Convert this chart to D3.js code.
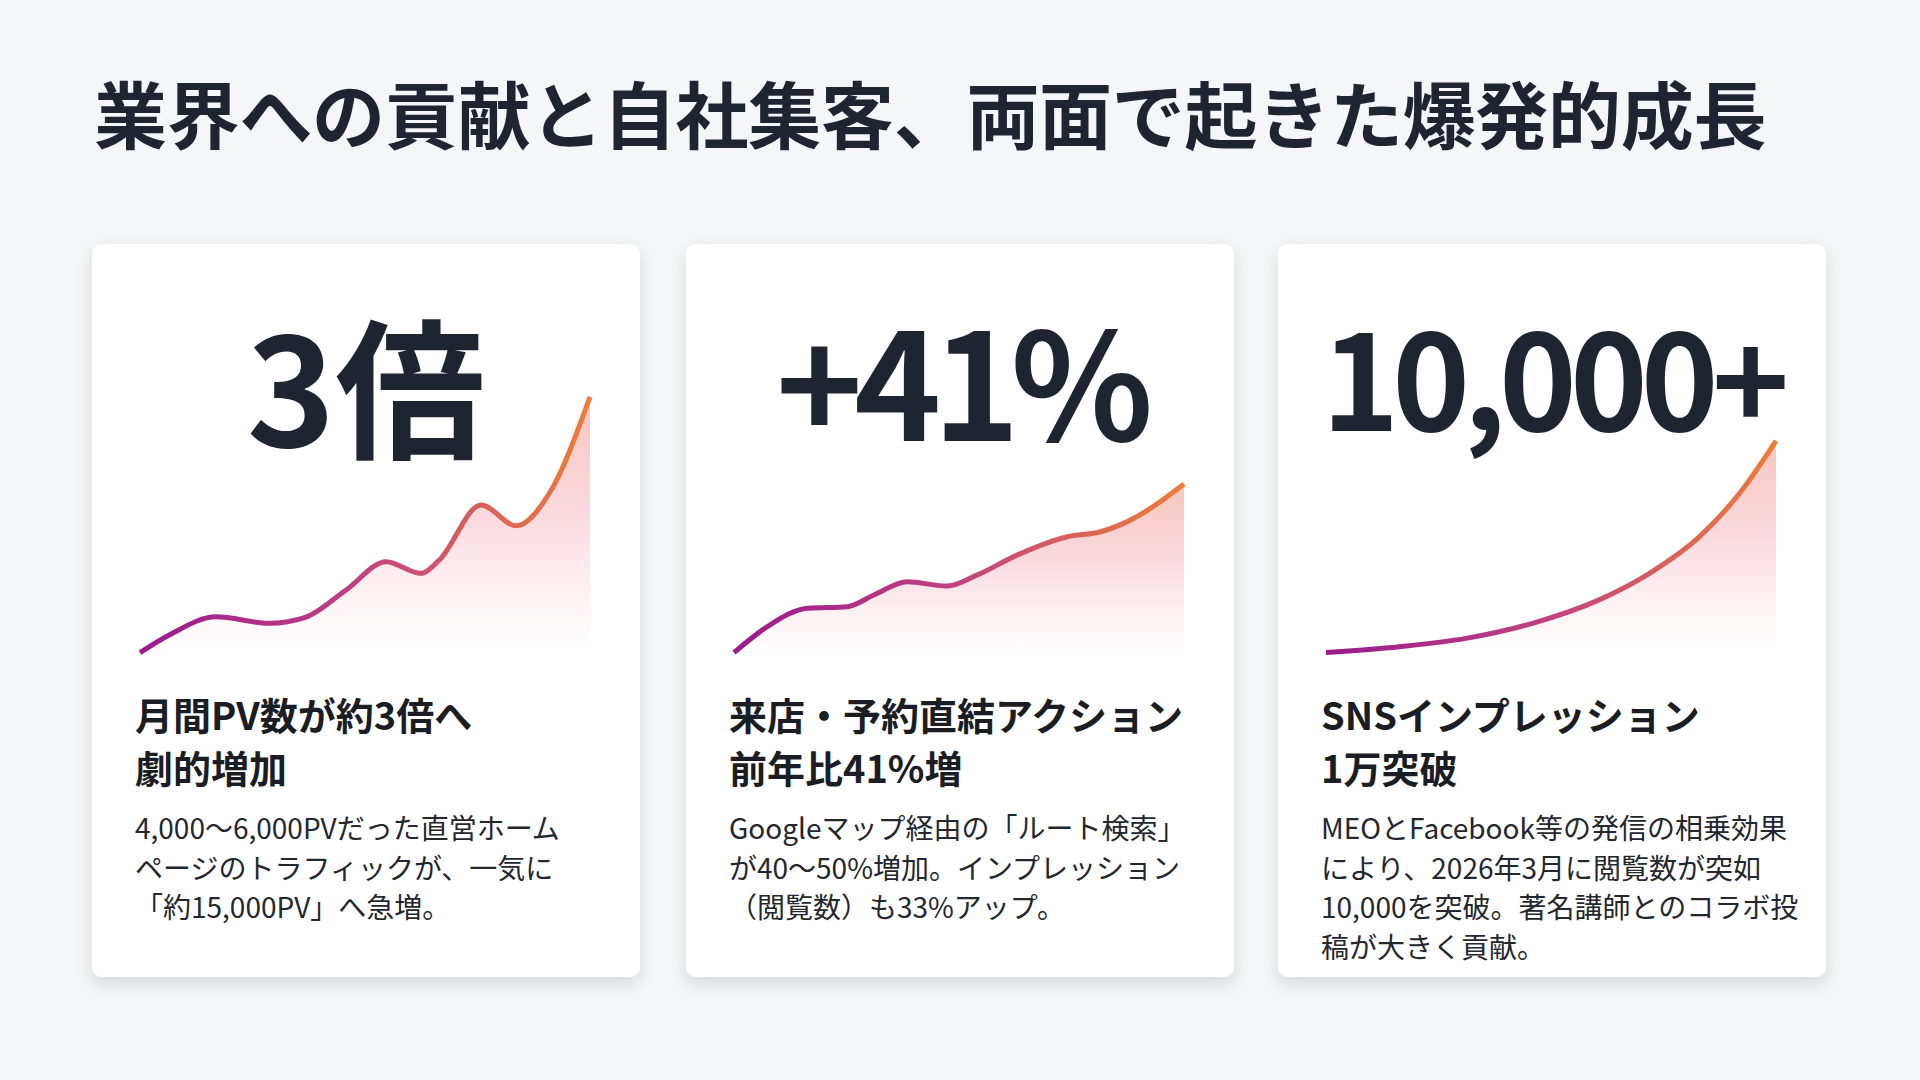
<!DOCTYPE html>
<html lang="ja">
<head>
<meta charset="utf-8">
<title>業界への貢献と自社集客、両面で起きた爆発的成長</title>
<script src="https://cdn.jsdelivr.net/npm/d3@7"></script>
<style>
  html, body { margin: 0; padding: 0; background: #f5f6f8; }
  svg { display: block; font-family: "Noto Sans CJK JP", "Noto Sans", sans-serif; }
</style>
</head>
<body>
<svg id="chart" width="1920" height="1080"></svg>
<script>
// ---- data ----
const pageTitle = "業界への貢献と自社集客、両面で起きた爆発的成長"

const statLabels = ["3倍", "+41%", "10,000+"]

const headingLines = [
    ["月間PV数が約3倍へ", "劇的増加"],
    ["来店・予約直結アクション", "前年比41%増"],
    ["SNSインプレッション", "1万突破"]
]

const bodyLines = [
    ["4,000〜6,000PVだった直営ホーム", "ページのトラフィックが、一気に", "「約15,000PV」へ急増。"],
    ["Googleマップ経由の「ルート検索」", "が40〜50%増加。インプレッション", "（閲覧数）も33%アップ。"],
    ["MEOとFacebook等の発信の相乗効果", "により、2026年3月に閲覧数が突如", "10,000を突破。著名講師とのコラボ投", "稿が大きく貢献。"]
]

// trend lines, x = time (0-100), y = relative level (0-100)
const pvTime = [0, 6.5, 16.9, 28.7, 36.9, 45.8, 54.7, 62.4, 66.5, 75.8, 83.6, 91, 100]
const pvLevel = [0.9, 7.7, 14.7, 12.2, 14.6, 25, 35.9, 31.4, 36.5, 57.7, 49.7, 62.3, 99.3]

const actionTime = [0, 7.4, 16.3, 25.2, 31.1, 38.5, 47.4, 54.1, 63, 74.1, 81.5, 87.4, 100]
const actionLevel = [0.9, 10.9, 18, 18.6, 23.1, 28.2, 26.5, 30.8, 38.5, 45.5, 47.4, 51.3, 65.8]

const snsTime = [0, 16.3, 31.1, 45.9, 60.7, 71.9, 83, 91.9, 100]
const snsLevel = [1, 3.2, 6.4, 12.2, 21.2, 31.4, 45.5, 62.2, 82.4]

const trends = [
    d3.zip(pvTime, pvLevel),
    d3.zip(actionTime, actionLevel),
    d3.zip(snsTime, snsLevel)
]

// ---- layout ----
const cardLeft = [92, 686, 1278]
const cardTop = 244
const cardW = 548
const cardH = 733
const statSize = [150, 148, 132]
const statBase = [447, 441, 431]
const statSpacing = [0, -9, -7]

const svg = d3.select("#chart")
const defs = svg.append("defs")

const shadow = defs.append("filter")
    .attr("id", "card-shadow")
    .attr("x", "-10%").attr("y", "-10%")
    .attr("width", "120%").attr("height", "125%")
shadow.append("feDropShadow")
    .attr("dx", 0).attr("dy", 7)
    .attr("stdDeviation", 9)
    .attr("flood-color", "#1e2430")
    .attr("flood-opacity", 0.12)

svg.append("text")
    .attr("x", 94)
    .attr("y", 111)
    .attr("dominant-baseline", "central")
    .attr("font-size", 73)
    .attr("font-weight", 700)
    .attr("letter-spacing", -0.3)
    .attr("fill", "#1e2430")
    .text(pageTitle)

const y = d3.scaleLinear().domain([0, 100]).range([655, 395])

const cards = svg.selectAll("g.card")
    .data(statLabels.map((s, i) => ({i: i, stat: s, heading: headingLines[i], body: bodyLines[i], trend: trends[i]})))
    .enter()
    .append("g")
    .attr("class", "card")
    .each(function (card) {
        let g = d3.select(this)
        let left = cardLeft[card.i]
        let x = d3.scaleLinear().domain([0, 100]).range([left + 48, left + 498])

        g.append("rect")
            .attr("x", left)
            .attr("y", cardTop)
            .attr("width", cardW)
            .attr("height", cardH)
            .attr("rx", 10)
            .attr("fill", "#ffffff")
            .attr("filter", "url(#card-shadow)")

        // gradients for this card's line and area
        let lineGrad = defs.append("linearGradient")
            .attr("id", "line-grad-" + card.i)
            .attr("gradientUnits", "userSpaceOnUse")
            .attr("x1", x(0)).attr("x2", x(100))
            .attr("y1", 0).attr("y2", 0)
        lineGrad.append("stop").attr("offset", "0%").attr("stop-color", "#9a1a8e")
        lineGrad.append("stop").attr("offset", "50%").attr("stop-color", "#c2437f")
        lineGrad.append("stop").attr("offset", "100%").attr("stop-color", "#f07c38")

        let topLevel = d3.max(card.trend, d => d[1])
        let areaGrad = defs.append("linearGradient")
            .attr("id", "area-grad-" + card.i)
            .attr("gradientUnits", "userSpaceOnUse")
            .attr("x1", 0).attr("x2", 0)
            .attr("y1", y(topLevel)).attr("y2", y(0))
        areaGrad.append("stop").attr("offset", "0%").attr("stop-color", "#f5a08e").attr("stop-opacity", 0.6)
        areaGrad.append("stop").attr("offset", "45%").attr("stop-color", "#f4aab6").attr("stop-opacity", 0.45)
        areaGrad.append("stop").attr("offset", "100%").attr("stop-color", "#f8c6d2").attr("stop-opacity", 0)

        let area = d3.area()
            .x(d => x(d[0]))
            .y0(y(0))
            .y1(d => y(d[1]))
            .curve(d3.curveMonotoneX)

        let line = d3.line()
            .x(d => x(d[0]))
            .y(d => y(d[1]))
            .curve(d3.curveMonotoneX)

        g.append("path")
            .datum(card.trend)
            .attr("d", area)
            .attr("fill", "url(#area-grad-" + card.i + ")")

        g.append("path")
            .datum(card.trend)
            .attr("d", line)
            .attr("fill", "none")
            .attr("stroke", "url(#line-grad-" + card.i + ")")
            .attr("stroke-width", 5)
            .attr("stroke-linejoin", "round")

        // big number
        g.append("text")
            .attr("x", left + cardW / 2)
            .attr("y", statBase[card.i])
            .attr("text-anchor", "middle")
            .attr("font-size", statSize[card.i])
            .attr("font-weight", 700)
            .attr("letter-spacing", statSpacing[card.i])
            .attr("fill", "#1e2430")
            .text(card.stat)

        g.selectAll("text.heading")
            .data(card.heading)
            .enter()
            .append("text")
            .attr("class", "heading")
            .attr("x", left + 43)
            .attr("y", (d, j) => 713 + j * 53)
            .attr("dominant-baseline", "central")
            .attr("font-size", 38)
            .attr("font-weight", 700)
            .attr("fill", "#1a1d23")
            .text(d => d)

        g.selectAll("text.body")
            .data(card.body)
            .enter()
            .append("text")
            .attr("class", "body")
            .attr("x", left + 43)
            .attr("y", (d, j) => 827 + j * 39.5)
            .attr("dominant-baseline", "central")
            .attr("font-size", 28)
            .attr("font-weight", 400)
            .attr("fill", "#23272e")
            .text(d => d)
    })
</script>
</body>
</html>
